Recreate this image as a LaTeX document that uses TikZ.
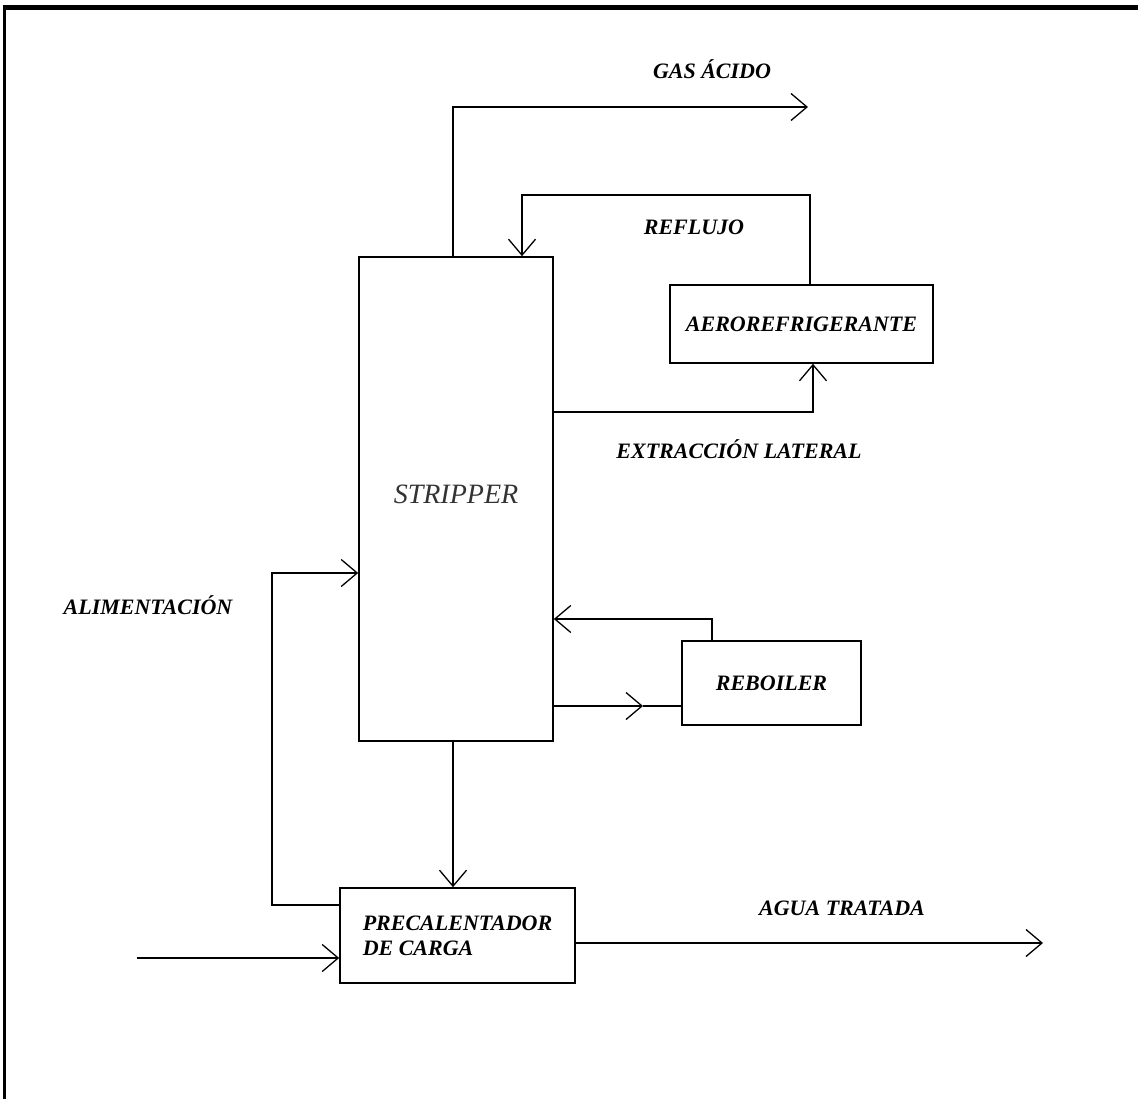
\documentclass[tikz,border=0pt]{standalone}
\usepackage{fontspec}
\setmainfont{Liberation Serif}
\usetikzlibrary{arrows.meta}
\newcommand\lab{\bfseries\itshape\fontsize{22}{25}\selectfont}
\begin{document}
\begin{tikzpicture}[x=1pt,y=-1pt,
  >={Straight Barb[length=16pt,width=27pt,line width=1.3pt]},
  box/.style={draw,line width=1.6pt,inner sep=0pt,font=\lab},
  lbl/.style={font=\lab,inner sep=0pt},
  flow/.style={line width=1.6pt}]
\useasboundingbox[fill=white] (0,0) rectangle (1138,1099);
% frame (top and left edges)
\draw[line width=5pt] (3,7.5) -- (1138,7.5);
\draw[line width=3pt] (4.5,5) -- (4.5,1099);
% units
\node[box,minimum width=194,minimum height=484,font=\itshape\fontsize{28}{30}\selectfont,text=black!80] (strip) at (456,499) {\raisebox{9pt}{STRIPPER}};
\node[box,minimum width=263,minimum height=78] (aero) at (801.5,324) {AEROREFRIGERANTE};
\node[box,minimum width=179,minimum height=84] (reb) at (771.5,683) {REBOILER};
\node[box,minimum width=235,minimum height=95,align=left] (pre) at (457.5,935.5) {PRECALENTADOR\\DE CARGA};
% stream labels
\node[lbl] (tgas) at (712,69) {GAS ÁCIDO};
\node[lbl] (tref) at (694,227) {REFLUJO};
\node[lbl] (text) at (739,449) {EXTRACCIÓN LATERAL};
\node[lbl] (tali) at (148,605) {ALIMENTACIÓN};
\node[lbl] (tagu) at (842,908) {AGUA TRATADA};
% helper coordinates
\coordinate (gx) at (453,0);
\coordinate (gasend) at (808,107);
\coordinate (rfa) at (810,195);
\coordinate (rfb) at (522,195);
\coordinate (ex) at (813,412);
\coordinate (rr) at (712,619);
\coordinate (rf) at (643,706);
\coordinate (la) at (272,905);
\coordinate (lb) at (272,573);
\coordinate (fd) at (137,958);
\coordinate (ag) at (1043,943);
% connectors
\draw[flow,->] (strip.north -| gx) |- (gasend);
\draw[flow,->] (aero.north -| rfa) -- (rfa) -- (rfb) -- (strip.north -| rfb);
\draw[flow,->] (strip.east |- ex) -- (ex) -- (aero.south -| ex);
\draw[flow,->] (reb.north -| rr) -- (rr) -- (strip.east |- rr);
\draw[flow,->] (strip.east |- rf) -- (rf);
\draw[flow] (rf) -- (reb.west |- rf);
\draw[flow,->] (pre.west |- la) -- (la) -- (lb) -- (strip.west |- lb);
\draw[flow,->] (strip.south -| gx) -- (pre.north -| gx);
\draw[flow,->] (fd) -- (pre.west |- fd);
\draw[flow,->] (pre.east |- ag) -- (ag);
\end{tikzpicture}
\end{document}
